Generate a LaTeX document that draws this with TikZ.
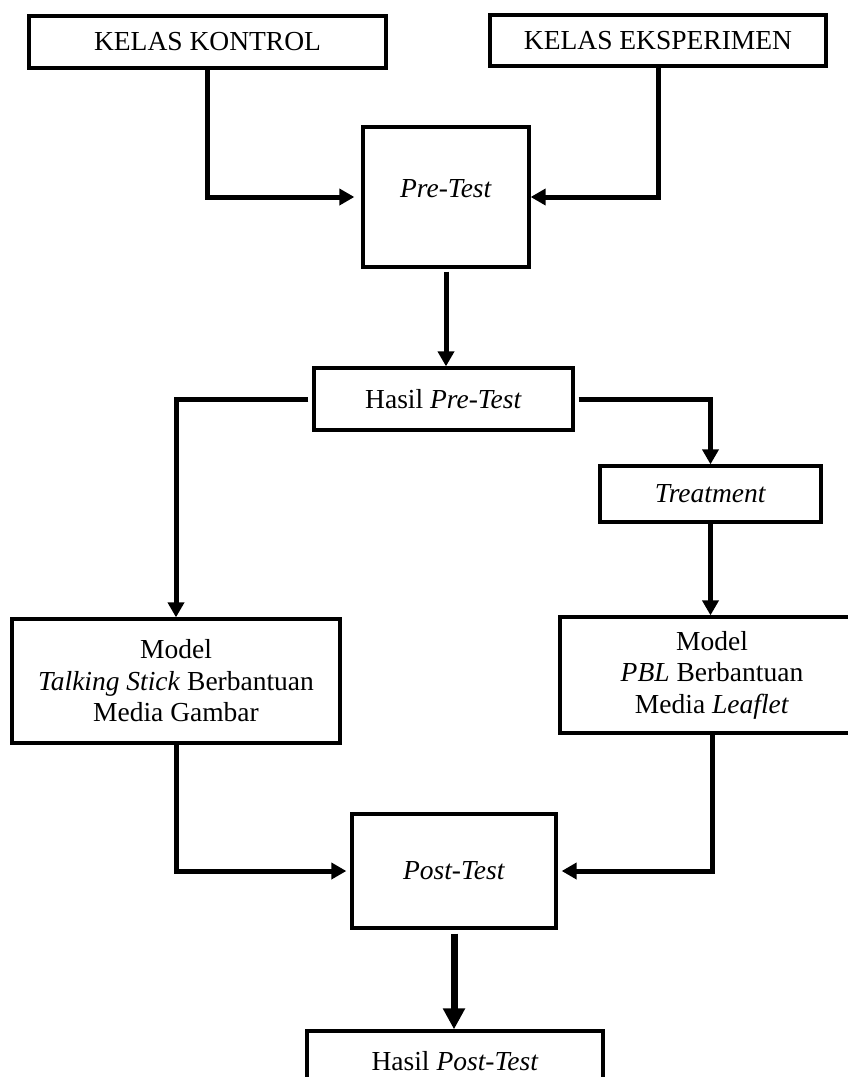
\documentclass[tikz,border=0pt]{standalone}
\usepackage{fontspec}
\setmainfont{Liberation Serif}
\usetikzlibrary{arrows.meta}
\begin{document}
\begin{tikzpicture}[x=1pt,y=-1pt,
  box/.style={draw, line width=3.3pt, inner sep=0pt, align=center,
    font=\fontsize{27.5}{31.5}\selectfont},
  conn/.style={line width=5pt, -{Triangle[length=15pt,width=16pt]}},
  bigconn/.style={line width=7pt, -{Triangle[length=21pt,width=21pt]}}]
\useasboundingbox (0,0) rectangle (848,1077);
\clip (0,0) rectangle (848,1077);
\node[box, minimum width=357pt, minimum height=52pt] (K) at (207.5,42) {KELAS KONTROL};
\node[box, minimum width=336pt, minimum height=51pt] (E) at (658,40.5) {KELAS EKSPERIMEN};
\node[box, minimum width=166pt, minimum height=140pt, text depth=18pt] (Pre) at (446,197) {\textit{Pre-Test}};
\node[box, minimum width=259pt, minimum height=62pt] (HPre) at (443.5,399) {Hasil \textit{Pre-Test}};
\node[box, minimum width=221pt, minimum height=56pt] (Treat) at (710.5,494) {\textit{Treatment}};
\node[box, minimum width=328pt, minimum height=124pt] (TS) at (176,681) {Model\\\textit{Talking Stick} Berbantuan\\Media Gambar};
\node[box, minimum width=304pt, minimum height=116pt] (PBL) at (712,675) {Model\\\textit{PBL} Berbantuan\\Media \textit{Leaflet}};
\node[box, minimum width=204pt, minimum height=114pt] (Post) at (454,871) {\textit{Post-Test}};
\node[box, minimum width=296pt, minimum height=60pt] (HPost) at (455,1061) {Hasil \textit{Post-Test}};

\draw[conn] (K.south) |- ([xshift=-7pt]Pre.west);
\draw[conn] (E.south) |- (Pre.east);
\draw[conn] ([yshift=-3pt]Pre.south) -- (Pre.south |- HPre.north);
\draw[conn] ([xshift=-4pt]HPre.west) -| (TS.north);
\draw[conn] ([xshift=4pt]HPre.east) -| (Treat.north);
\draw[conn] (Treat.south) -- (Treat.south |- PBL.north);
\draw[conn] (TS.south) |- ([xshift=-4pt]Post.west);
\draw[conn] (PBL.south) |- ([xshift=4pt]Post.east);
\draw[bigconn] ([yshift=-4pt]Post.south) -- (Post.south |- HPost.north);
\end{tikzpicture}
\end{document}
